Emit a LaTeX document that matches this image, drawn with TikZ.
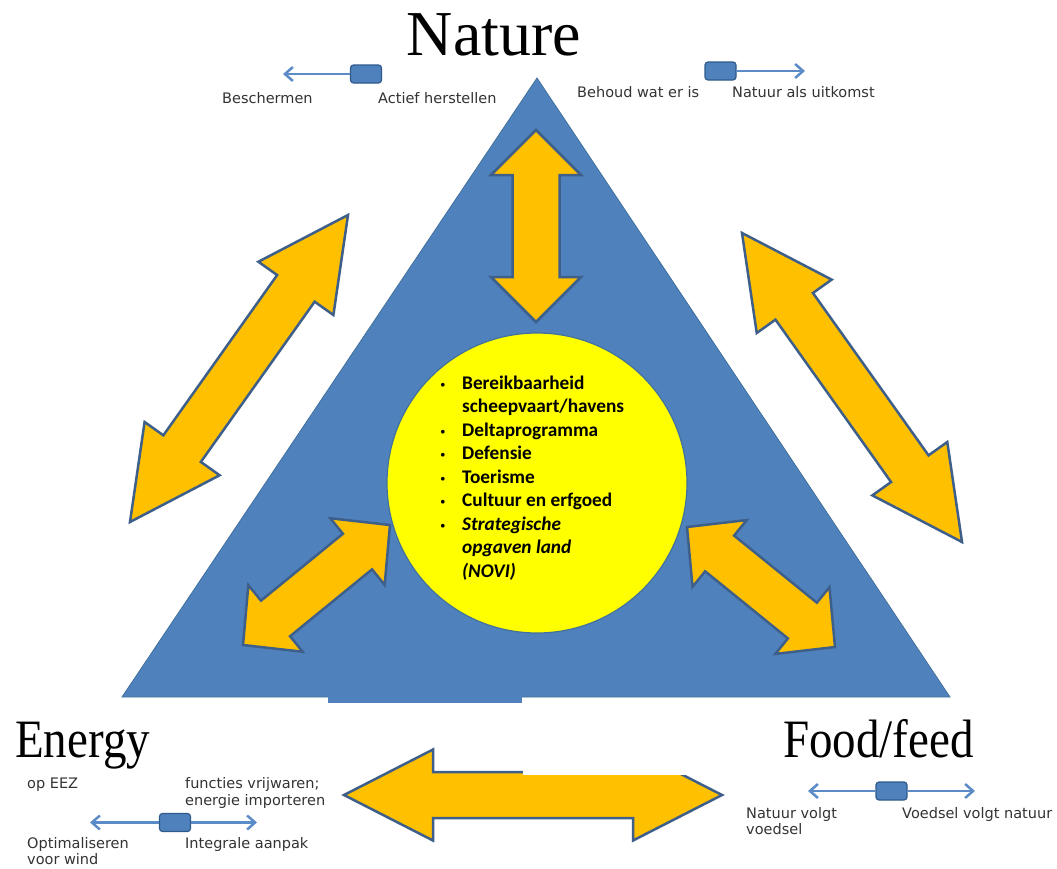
\documentclass[tikz,border=0pt]{standalone}
\usepackage{graphicx}
\usepackage{fontspec}
\setmainfont{Liberation Serif}
\newfontfamily\lblfont{DejaVu Sans}
\newfontfamily\lstfont{Carlito}
\newfontfamily\bulfont{Liberation Sans}
\usetikzlibrary{calc,arrows.meta}
\definecolor{triblue}{HTML}{4F81BD}
\definecolor{triedge}{HTML}{41719C}
\definecolor{aryellow}{HTML}{FFC000}
\definecolor{aredge}{HTML}{3E5F8A}
\definecolor{circyellow}{HTML}{FFFF00}
\definecolor{slidline}{HTML}{5B8CC8}
\definecolor{slidbox}{HTML}{4F81BD}
\definecolor{slidedge}{HTML}{2F5A8C}
\definecolor{lbltext}{HTML}{333333}
\newcommand\blockarrow[6]{%
  \coordinate (#1-a) at #2;
  \coordinate (#1-b) at #3;
  \coordinate (#1-h) at ($(#1-a)!#4!(#1-b)$);
  \coordinate (#1-k) at ($(#1-b)!#4!(#1-a)$);
  \draw[yarrow] (#1-a)
   -- ($(#1-h)!#5!90:(#1-a)$) -- ($(#1-h)!#6!90:(#1-a)$)
   -- ($(#1-k)!#6!-90:(#1-b)$) -- ($(#1-k)!#5!-90:(#1-b)$)
   -- (#1-b)
   -- ($(#1-k)!#5!90:(#1-b)$) -- ($(#1-k)!#6!90:(#1-b)$)
   -- ($(#1-h)!#6!-90:(#1-a)$) -- ($(#1-h)!#5!-90:(#1-a)$)
   -- cycle;}
\newcommand\bul{\llap{{\bulfont\fontsize{13}{13}\selectfont\textbullet}\hspace{17pt}}}
\begin{document}
\begin{tikzpicture}[x=1pt,y=-1pt,
  yarrow/.style={fill=aryellow,draw=aredge,line width=2.5pt,line join=miter},
  lbl/.style={font=\lblfont\fontsize{14.5}{17}\selectfont,text=lbltext,inner sep=0pt,anchor=base west},
  bigl/.style={font=\fontsize{47}{50}\selectfont,inner sep=0pt,anchor=base west},
  itm/.style={font=\lstfont\bfseries\fontsize{19.3}{23}\selectfont,inner sep=0pt,anchor=base west},
  knob/.style={draw=slidedge,fill=slidbox,rounded corners=3pt,line width=1.2pt,minimum width=31pt,minimum height=18pt,inner sep=0pt},
  slide/.style={draw=slidline,line width=2.5pt,-{Straight Barb[length=8pt,width=14pt]}},
]
\fill[white] (0,0) rectangle (1057,868);
\useasboundingbox (0,0) rectangle (1057,868);

% triangle
\draw[fill=triblue,draw=triedge,line width=0.8pt] (537,78) -- (950,697) -- (122,697) -- cycle;
\fill[triblue] (328,696) rectangle (522,703);

% arrows inside triangle
\blockarrow{top}{(536,130)}{(536,322)}{45pt}{45pt}{23.5pt}
\blockarrow{sl}{(390,525)}{(243,645)}{42pt}{43pt}{23pt}
\blockarrow{sr}{(687,527)}{(835,647)}{42pt}{43pt}{23pt}

% circle
\draw[fill=circyellow,draw=triedge,line width=1.2pt] (537,483) circle[radius=150];

% outer arrows
\blockarrow{bl}{(348,215)}{(130,522)}{90pt}{46pt}{23pt}
\blockarrow{br}{(742,233)}{(962,542)}{90pt}{46pt}{23pt}
\blockarrow{bt}{(344,795)}{(722,795)}{89pt}{45.5pt}{23pt}
\fill[white] (523,698) rectangle (720,775);

% list in circle
\node[itm] (it1) at (462,389.3) {\bul Bereikbaarheid};
\node[itm] (it2) at (462,412.8) {scheepvaart/havens};
\node[itm] (it3) at (462,436.3) {\bul Deltaprogramma};
\node[itm] (it4) at (462,459.8) {\bul Defensie};
\node[itm] (it5) at (462,483.3) {\bul Toerisme};
\node[itm] (it6) at (462,506.8) {\bul Cultuur en erfgoed};
\node[itm] (it7) at (462,530.3) {\bul\itshape Strategische};
\node[itm] (it8) at (462,553.8) {\itshape opgaven land};
\node[itm] (it9) at (462,577.3) {\itshape (NOVI)};

% big titles
\node[inner sep=0pt,anchor=base,font=\fontsize{64}{66}\selectfont] (nature) at (494,55) {Nature};
\node[bigl] (energy) at (15,757) {\scalebox{1}[1.15]{Energy}};
\node[bigl] (food) at (783,757) {\scalebox{1}[1.15]{Food/feed}};

% top-left slider
\node[knob] (k1) at (366,74) {};
\coordinate (k1l) at (283,74);
\draw[slide] (k1.west) -- (k1l);
\node[lbl] (t1a) at (222,103) {Beschermen};
\node[lbl] (t1b) at (378,103) {Actief herstellen};

% top-right slider
\node[knob] (k2) at (720.5,71) {};
\coordinate (k2r) at (805,71);
\draw[slide] (k2.east) -- (k2r);
\node[lbl] (t2a) at (577,97) {Behoud wat er is};
\node[lbl] (t2b) at (732,97) {Natuur als uitkomst};

% bottom-left slider
\node[knob] (k3) at (175,822.5) {};
\coordinate (k3l) at (90,822.5);
\coordinate (k3r) at (257,822.5);
\draw[slide] (k3.west) -- (k3l);
\draw[slide] (k3.east) -- (k3r);
\node[lbl] (t3a) at (27,788) {op EEZ};
\node[lbl] (t3b) at (185,788) {functies vrijwaren;};
\node[lbl] (t3c) at (185,805) {energie importeren};
\node[lbl] (t3d) at (27,848) {Optimaliseren};
\node[lbl] (t3e) at (27,864) {voor wind};
\node[lbl] (t3f) at (185,848) {Integrale aanpak};

% bottom-right slider
\node[knob] (k4) at (891.5,791) {};
\coordinate (k4l) at (808,791);
\coordinate (k4r) at (975,791);
\draw[slide] (k4.west) -- (k4l);
\draw[slide] (k4.east) -- (k4r);
\node[lbl] (t4a) at (746,818) {Natuur volgt};
\node[lbl] (t4b) at (746,834) {voedsel};
\node[lbl] (t4c) at (902,818) {Voedsel volgt natuur};
\end{tikzpicture}
\end{document}
